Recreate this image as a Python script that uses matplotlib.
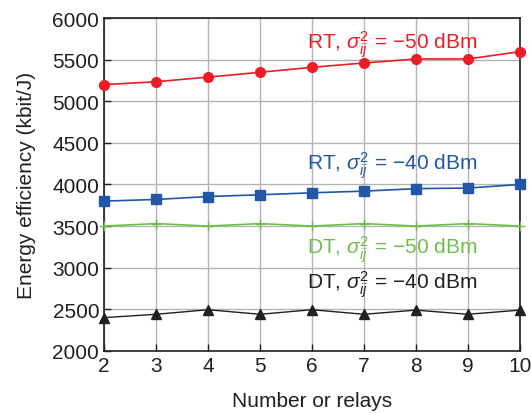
import matplotlib
matplotlib.use('Agg')
from matplotlib import pyplot as plt

plt.rcParams['font.family'] = ['Liberation Sans', 'DejaVu Sans']
plt.rcParams['mathtext.fontset'] = 'custom'
plt.rcParams['mathtext.rm'] = 'Liberation Sans'
plt.rcParams['mathtext.it'] = 'Liberation Sans:italic'

# relays count
relays = [2, 3, 4, 5, 6, 7, 8, 9, 10]
# energy efficiency (kbit/J)
rt_50 = [5200, 5235, 5290, 5348, 5408, 5460, 5508, 5508, 5596]
rt_40 = [3800, 3820, 3855, 3876, 3900, 3920, 3950, 3957, 4000]
dt_50 = [3500, 3530, 3500, 3530, 3500, 3530, 3500, 3530, 3500]
dt_40 = [2400, 2440, 2495, 2440, 2495, 2440, 2490, 2440, 2490]

red = '#ee1c25'
blue = '#2256a6'
green = '#6cc04a'
black = '#231f20'

fig = plt.figure(figsize=(5.31, 4.14), dpi=100)
ax = fig.add_axes([0.196, 0.150, 0.783, 0.804])

ax.plot(relays, rt_50, color=red, marker='o', ms=7, lw=1.2, clip_on=False, zorder=3)
ax.plot(relays, rt_40, color=blue, marker='s', ms=7, lw=1.2, clip_on=False, zorder=3)
ax.plot(relays, dt_50, color=green, marker='+', ms=7, mew=1.0, lw=1.2, clip_on=False, zorder=3)
ax.plot(relays, dt_40, color=black, marker='^', ms=7, lw=1.0, clip_on=False, zorder=3)

fs = 15
ax.text(5.9, 5639, r'RT, $\sigma_{ij}^{2}$ = −50 dBm', color=red, fontsize=fs, va='baseline')
ax.text(5.9, 4185, r'RT, $\sigma_{ij}^{2}$ = −40 dBm', color=blue, fontsize=fs, va='baseline')
ax.text(5.9, 3175, r'DT, $\sigma_{ij}^{2}$ = −50 dBm', color=green, fontsize=fs, va='baseline')
ax.text(5.9, 2755, r'DT, $\sigma_{ij}^{2}$ = −40 dBm', color=black, fontsize=fs, va='baseline')

ax.set_xlim(2, 10)
ax.set_ylim(2000, 6000)
ax.set_xticks(relays)
ax.set_yticks(range(2000, 6001, 500))
ax.tick_params(direction='in', labelsize=fs, colors=black, length=5, width=1)
ax.grid(True, color='#b4b4b4', lw=1.0)
ax.set_axisbelow(True)
for s in ax.spines.values():
    s.set_color(black)
    s.set_linewidth(1.2)

ax.set_xlabel('Number or relays', fontsize=fs, color=black, labelpad=12)
ax.set_ylabel('Energy efficiency (kbit/J)', fontsize=fs, color=black, labelpad=12)

fig.savefig('out.png', dpi=100)
